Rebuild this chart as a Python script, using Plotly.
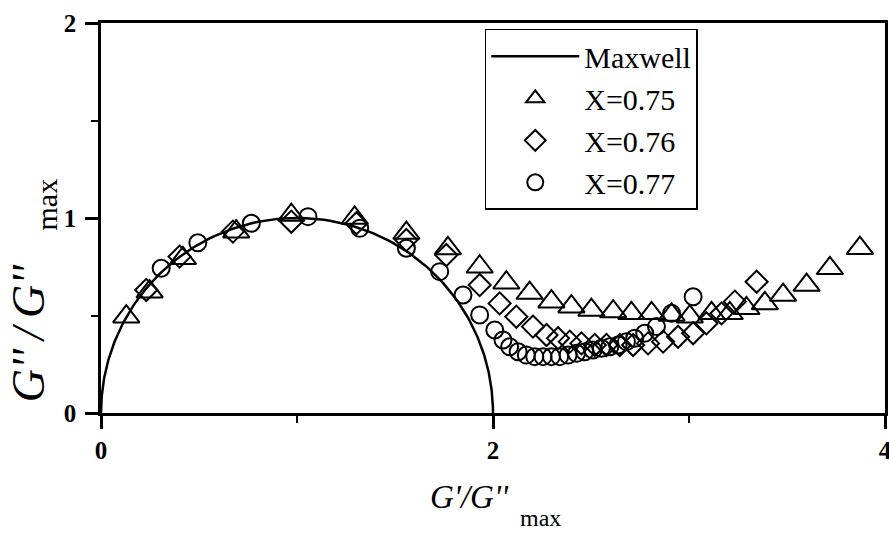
import numpy as np
import plotly.graph_objects as go

# Normalised Cole-Cole data: G'/G''max (x) and G''/G''max (y)
x_075 = [0.129, 0.248, 0.418, 0.690, 0.971, 1.294, 1.558, 1.770, 1.932, 2.068,
         2.187, 2.298, 2.400, 2.502, 2.613, 2.706, 2.809, 2.911, 3.004, 3.115,
         3.208, 3.293, 3.387, 3.480, 3.600, 3.719, 3.872]
y_075 = [0.494, 0.622, 0.793, 0.930, 1.015, 1.000, 0.923, 0.844, 0.750, 0.668,
         0.615, 0.571, 0.545, 0.528, 0.520, 0.511, 0.511, 0.503, 0.494, 0.511,
         0.511, 0.537, 0.562, 0.605, 0.656, 0.742, 0.845]

x_076 = [0.231, 0.401, 0.673, 0.971, 1.303, 1.558, 1.762, 1.932, 2.034, 2.119,
         2.204, 2.273, 2.332, 2.392, 2.451, 2.519, 2.579, 2.647, 2.715, 2.791,
         2.868, 2.944, 3.021, 3.089, 3.166, 3.234, 3.345]
y_076 = [0.631, 0.802, 0.930, 0.981, 0.973, 0.887, 0.810, 0.656, 0.562, 0.494,
         0.443, 0.400, 0.383, 0.366, 0.357, 0.349, 0.349, 0.349, 0.349, 0.357,
         0.366, 0.391, 0.409, 0.460, 0.511, 0.571, 0.673]

x_077 = [0.307, 0.494, 0.767, 1.056, 1.320, 1.558, 1.728, 1.847, 1.932, 2.009,
         2.051, 2.085, 2.128, 2.170, 2.213, 2.255, 2.298, 2.340, 2.383, 2.426,
         2.468, 2.510, 2.553, 2.596, 2.638, 2.681, 2.723, 2.774, 2.834, 2.911,
         3.021]
y_077 = [0.742, 0.873, 0.973, 1.007, 0.947, 0.845, 0.725, 0.605, 0.503, 0.426,
         0.374, 0.340, 0.314, 0.297, 0.289, 0.289, 0.289, 0.289, 0.297, 0.306,
         0.314, 0.323, 0.332, 0.340, 0.349, 0.366, 0.383, 0.409, 0.443, 0.511,
         0.596]

series_names = ["X=0.75", "X=0.76", "X=0.77"]
x_ticks = [0, 2, 4]
y_ticks = [0, 1, 2]

# Single-mode Maxwell model: G'/G''max = 2(wt)^2/(1+(wt)^2), G''/G''max = 2wt/(1+(wt)^2)
wt = np.logspace(-4, 4, 600)
x_maxwell = 2 * wt**2 / (1 + wt**2)
y_maxwell = 2 * wt / (1 + wt**2)

SERIF = "Liberation Serif, Times New Roman, serif"

fig = go.Figure()
fig.add_trace(go.Scatter(
    x=x_maxwell, y=y_maxwell, mode="lines", name="Maxwell",
    line=dict(color="black", width=2.5), legendgroup="a"))

marker_styles = [
    ("triangle-up-open", 23, x_075, y_075),
    ("diamond-open", 17, x_076, y_076),
    ("circle-open", 17, x_077, y_077),
]
for name, (sym, size, xs, ys) in zip(series_names, marker_styles):
    fig.add_trace(go.Scatter(
        x=xs, y=ys, mode="markers", name=name, legendgroup=name,
        marker=dict(symbol=sym, size=size, color="black",
                    line=dict(color="black", width=2))))

axis_common = dict(
    showgrid=False, zeroline=False, showline=True, linecolor="black",
    linewidth=2.5, mirror=True, ticks="outside", ticklen=13, tickwidth=2.5,
    tickcolor="black", automargin=False, ticklabeloverflow="allow",
    tickfont=dict(family=SERIF, size=25, color="black", weight="bold"),
)

fig.update_xaxes(range=[0, 4], tickmode="array", tickvals=x_ticks,
                 ticktext=[str(t) for t in x_ticks],
                 minor=dict(tickvals=[1, 3], ticks="outside", ticklen=7,
                            tickwidth=2, tickcolor="black"),
                 **axis_common)
fig.update_yaxes(range=[0, 2], tickmode="array", tickvals=y_ticks,
                 ticktext=[str(t) for t in y_ticks], ticklabelstandoff=4,
                 minor=dict(tickvals=[0.5, 1.5], ticks="outside", ticklen=7,
                            tickwidth=2, tickcolor="black"),
                 **axis_common)

# Axis titles with lowered "max" subscripts
fig.add_annotation(text="G'/G''", xref="paper", yref="paper", x=0.470, y=-0.215,
                   showarrow=False, xanchor="center", yanchor="middle",
                   font=dict(family=SERIF, size=33, color="black", style="italic"))
fig.add_annotation(text="max", xref="paper", yref="paper", x=0.560, y=-0.270,
                   showarrow=False, xanchor="center", yanchor="middle",
                   font=dict(family=SERIF, size=24, color="black"))
fig.add_annotation(text="G''\u2009/\u2009G''", xref="paper", yref="paper",
                   x=-0.093, y=0.205,
                   showarrow=False, xanchor="center", yanchor="middle", textangle=-90,
                   font=dict(family=SERIF, size=46, color="black", style="italic"))
fig.add_annotation(text="max", xref="paper", yref="paper", x=-0.070, y=0.535,
                   showarrow=False, xanchor="center", yanchor="middle", textangle=-90,
                   font=dict(family=SERIF, size=30, color="black"))

fig.update_layout(
    width=889, height=533,
    margin=dict(l=101, r=4, t=23, b=120),
    paper_bgcolor="white", plot_bgcolor="white",
    showlegend=True,
    legend=dict(x=0.4895, y=0.985, xanchor="left", yanchor="top",
                bgcolor="white", bordercolor="black", borderwidth=1.5,
                font=dict(family=SERIF, size=30, color="black"),
                itemwidth=88, tracegroupgap=0, traceorder="grouped"),
)

fig.write_html("out.html")
